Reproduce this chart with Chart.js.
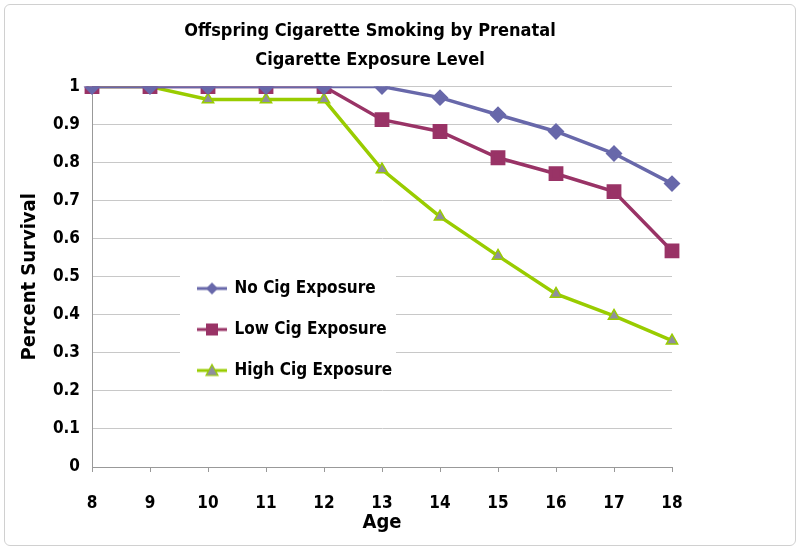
<!DOCTYPE html>
<html>
<head>
<meta charset="utf-8">
<script src="https://cdn.jsdelivr.net/npm/chart.js@4.4.1/dist/chart.umd.min.js"></script>
<style>
  body { margin: 0; background: #fff; }
  #wrap { position: relative; width: 800px; height: 550px; }
  #frame { position: absolute; left: 4px; top: 4px; right: 4px; bottom: 4px;
           border: 1px solid #d0d0d0; border-radius: 6px; pointer-events: none; }
</style>
</head>
<body>
<div id="wrap">
  <canvas id="ageChart" width="800" height="550"></canvas>
  <div id="frame"></div>
</div>
<script>
const ages = ['8', '9', '10', '11', '12', '13', '14', '15', '16', '17', '18'];
const noCig   = [1, 1, 1, 1, 1, 1, 0.971, 0.926, 0.882, 0.824, 0.745];
const lowCig  = [1, 1, 1, 1, 1, 0.913, 0.882, 0.813, 0.771, 0.724, 0.568];
const highCig = [1, 1, 0.966, 0.966, 0.966, 0.782, 0.658, 0.555, 0.455, 0.397, 0.332];

const FONT = "'Liberation Sans Narrow', 'DejaVu Sans Condensed', 'Liberation Sans', sans-serif";
const C_NO = '#6868aa', C_LOW = '#993366', C_HIGH = '#99cc00', C_TRI = '#8f8f9c';

// little line+marker swatches for the legend, like the Excel one
function swatch(kind, line, fill) {
  const c = document.createElement('canvas');
  c.width = 30; c.height = 16;
  const g = c.getContext('2d');
  g.strokeStyle = line; g.lineWidth = 3;
  g.beginPath(); g.moveTo(0, 8); g.lineTo(30, 8); g.stroke();
  g.fillStyle = fill;
  g.beginPath();
  if (kind == 'diamond') { g.moveTo(15, 2); g.lineTo(21, 8); g.lineTo(15, 14); g.lineTo(9, 8); }
  else if (kind == 'square') { g.rect(9, 2, 12, 12); }
  else { g.moveTo(15, 2); g.lineTo(21, 13); g.lineTo(9, 13); }
  g.closePath(); g.fill();
  if (kind == 'tri') { g.strokeStyle = line; g.lineWidth = 1.2; g.stroke(); }
  return c;
}
const swatches = [swatch('diamond', C_NO, C_NO), swatch('square', C_LOW, C_LOW), swatch('tri', C_HIGH, C_TRI)];

// legend inside the plot on a white box, title centred a bit right of the plot
const legendBox = {
  id: 'legendBox',
  afterLayout(chart) {
    const tb = chart.titleBlock;
    tb.left = 0; tb.right = 740;
    const lg = chart.legend;
    lg.left = 174; lg.top = 256;
    lg.width = 230; lg.height = 150;
    lg.right = lg.left + lg.width; lg.bottom = lg.top + lg.height;
    if (!lg._bgWrapped) {
      const orig = lg.draw;
      lg.draw = function () {
        const ctx = chart.ctx;
        ctx.save();
        ctx.fillStyle = '#ffffff';
        ctx.fillRect(this.left + 6, this.top + 5, 216, 128);
        ctx.restore();
        orig.apply(this, arguments);
      };
      lg._bgWrapped = true;
    }
  }
};

new Chart(document.getElementById('ageChart'), {
  type: 'line',
  data: {
    labels: ages,
    datasets: [
      { label: 'No Cig Exposure', data: noCig, borderColor: C_NO, backgroundColor: C_NO,
        borderWidth: 3.5, pointStyle: 'rectRot', pointRadius: 6, pointBackgroundColor: C_NO, pointBorderColor: C_NO },
      { label: 'Low Cig Exposure', data: lowCig, borderColor: C_LOW, backgroundColor: C_LOW,
        borderWidth: 3.5, pointStyle: 'rect', pointRadius: 8, pointBackgroundColor: C_LOW, pointBorderColor: C_LOW },
      { label: 'High Cig Exposure', data: highCig, borderColor: C_HIGH, backgroundColor: C_TRI,
        borderWidth: 3.5, pointStyle: 'triangle', pointRadius: 6.5, pointBackgroundColor: C_TRI,
        pointBorderColor: C_HIGH, pointBorderWidth: 1.5 }
    ]
  },
  options: {
    responsive: false,
    animation: false,
    layout: { padding: { left: 0, right: 128, top: 0, bottom: 15 } },
    plugins: {
      title: {
        display: true,
        text: ['Offspring Cigarette Smoking by Prenatal', 'Cigarette Exposure Level'],
        color: '#000',
        font: { family: FONT, size: 18, weight: 'bold', lineHeight: 1.6 },
        padding: { top: 17, bottom: 12 }
      },
      legend: {
        position: 'chartArea',
        align: 'start',
        labels: {
          color: '#000',
          font: { family: FONT, size: 17, weight: 'bold', lineHeight: 1 },
          usePointStyle: true,
          pointStyleWidth: 28,
          padding: 24,
          generateLabels(chart) {
            return chart.data.datasets.map((ds, i) => ({
              text: ds.label, pointStyle: swatches[i], datasetIndex: i,
              fillStyle: ds.borderColor, strokeStyle: ds.borderColor, lineWidth: 0, hidden: false
            }));
          }
        }
      },
      tooltip: { enabled: false }
    },
    scales: {
      x: {
        offset: false,
        afterFit(scale) { scale.height = 68; },
        grid: { display: true, drawOnChartArea: false, drawTicks: true, tickLength: 5, color: '#999' },
        border: { color: '#999', width: 1 },
        ticks: { color: '#000', padding: 23, maxRotation: 0, font: { family: FONT, size: 17, weight: 'bold', lineHeight: 1 } },
        title: { display: true, text: 'Age', color: '#000', padding: { top: 1, bottom: 0 },
                 font: { family: FONT, size: 20, weight: 'bold', lineHeight: 1.2 } }
      },
      y: {
        min: 0, max: 1,
        afterFit(scale) { scale.width = 92; },
        grid: { color: '#c8c8c8', tickLength: 4, drawTicks: false },
        border: { color: '#999', width: 1 },
        ticks: { stepSize: 0.1, color: '#000', padding: 12,
                 callback: v => String(+v.toFixed(1)),
                 font: { family: FONT, size: 17, weight: 'bold' } },
        title: { display: true, text: 'Percent Survival', color: '#000', padding: { top: 18, bottom: 0 },
                 font: { family: FONT, size: 20, weight: 'bold', lineHeight: 1.2 } }
      }
    }
  },
  plugins: [legendBox]
});
</script>
</body>
</html>
